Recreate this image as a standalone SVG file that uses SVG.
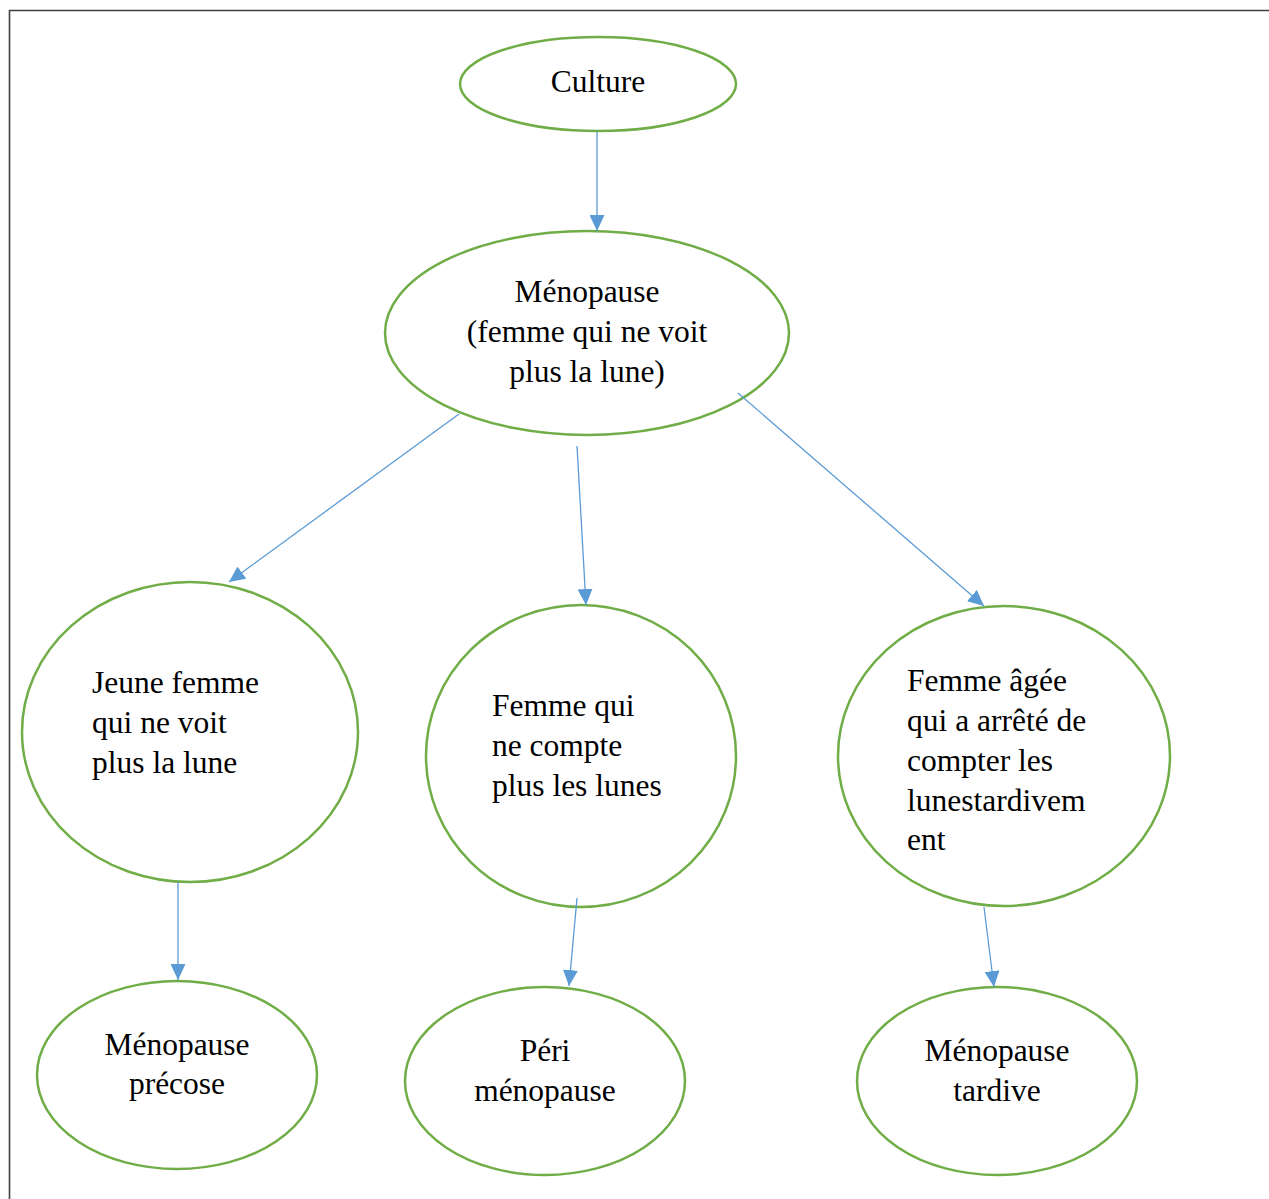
<svg xmlns="http://www.w3.org/2000/svg" width="1269" height="1199" viewBox="0 0 1269 1199">
  <style>
    .node { fill: #ffffff; stroke: #70AD47; stroke-width: 2.5; }
    .label { font-family: "Liberation Serif", "Times New Roman", serif; font-size: 31.5px; fill: #000000; }
    .mid { text-anchor: middle; }
    .link { stroke: #5B9BD5; stroke-width: 1.3; fill: none; marker-end: url(#arrow); }
  </style>
  <defs>
    <marker id="arrow" viewBox="0 0 16 15" refX="16" refY="7.5" markerWidth="16" markerHeight="15" markerUnits="userSpaceOnUse" orient="auto">
      <path d="M0,0 L16,7.5 L0,15 z" fill="#5B9BD5"/>
    </marker>
  </defs>
  <rect width="1269" height="1199" fill="#ffffff"/>
  <!-- page frame (top and left edges only are visible) -->
  <path d="M9.5,1199 L9.5,10.5 L1269,10.5" fill="none" stroke="#404040" stroke-width="1.6"/>

  <g id="culture">
    <ellipse class="node" cx="598" cy="84" rx="138" ry="47"/>
    <text class="label mid" x="598" y="92">Culture</text>
  </g>

  <g id="menopause">
    <ellipse class="node" cx="587" cy="333" rx="202" ry="102"/>
    <text class="label mid" x="587" y="302">Ménopause</text>
    <text class="label mid" x="587" y="342">(femme qui ne voit</text>
    <text class="label mid" x="587" y="382">plus la lune)</text>
  </g>

  <g id="jeune-femme">
    <ellipse class="node" cx="190" cy="732" rx="168" ry="150"/>
    <text class="label" x="92" y="693">Jeune femme</text>
    <text class="label" x="92" y="733">qui ne voit</text>
    <text class="label" x="92" y="773">plus la lune</text>
  </g>

  <g id="femme-qui">
    <ellipse class="node" cx="581" cy="756" rx="155" ry="151"/>
    <text class="label" x="492" y="716">Femme qui</text>
    <text class="label" x="492" y="756">ne compte</text>
    <text class="label" x="492" y="796">plus les lunes</text>
  </g>

  <g id="femme-agee">
    <ellipse class="node" cx="1004" cy="756" rx="166" ry="150"/>
    <text class="label" x="907" y="691">Femme âgée</text>
    <text class="label" x="907" y="731">qui a arrêté de</text>
    <text class="label" x="907" y="771">compter les</text>
    <text class="label" x="907" y="811">lunestardivem</text>
    <text class="label" x="907" y="850">ent</text>
  </g>

  <g id="menopause-precose">
    <ellipse class="node" cx="177" cy="1075" rx="140" ry="94"/>
    <text class="label mid" x="177" y="1055">Ménopause</text>
    <text class="label mid" x="177" y="1094">précose</text>
  </g>

  <g id="peri-menopause">
    <ellipse class="node" cx="545" cy="1081" rx="140" ry="94"/>
    <text class="label mid" x="545" y="1061">Péri</text>
    <text class="label mid" x="545" y="1101">ménopause</text>
  </g>

  <g id="menopause-tardive">
    <ellipse class="node" cx="997" cy="1081" rx="140" ry="94"/>
    <text class="label mid" x="997" y="1061">Ménopause</text>
    <text class="label mid" x="997" y="1101">tardive</text>
  </g>

  <!-- connectors drawn above the ellipses so their starts show inside them -->
  <g id="connectors">
    <line class="link" x1="597" y1="132" x2="597" y2="231"/>
    <line class="link" x1="459" y1="414" x2="229" y2="582"/>
    <line class="link" x1="577" y1="446" x2="586" y2="605"/>
    <line class="link" x1="738" y1="393" x2="984" y2="606"/>
    <line class="link" x1="178" y1="882" x2="178" y2="980"/>
    <line class="link" x1="577" y1="898" x2="569" y2="986"/>
    <line class="link" x1="984" y1="907" x2="994" y2="987"/>
  </g>
</svg>
